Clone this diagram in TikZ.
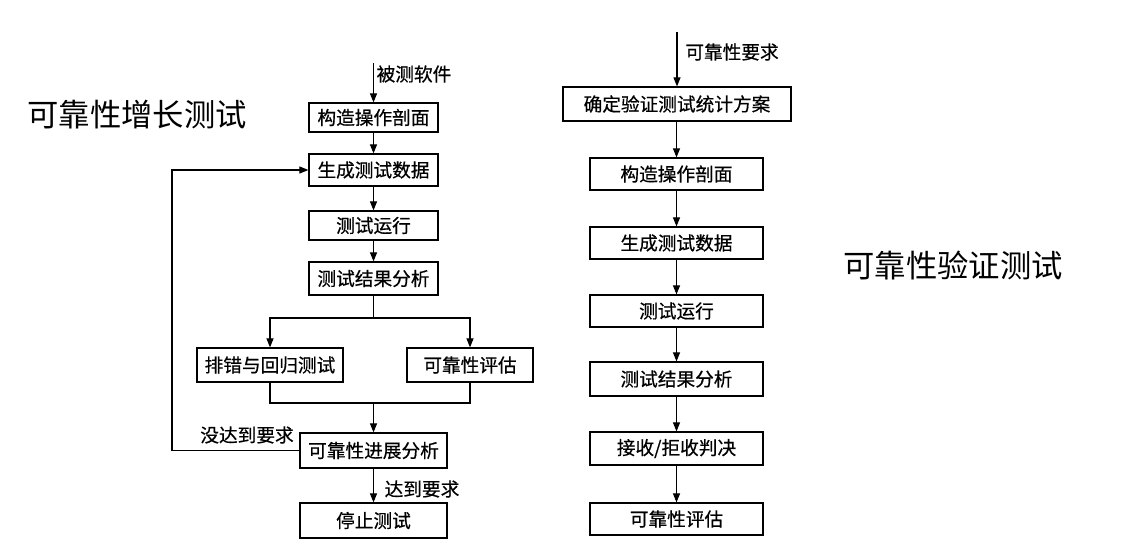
\documentclass[tikz,border=0pt]{standalone}
\usepackage{fontspec}
\newfontfamily\cjk{Noto Sans CJK SC}
\newfontfamily\cjkb[FakeBold=0.6]{Noto Sans CJK SC}
\usetikzlibrary{arrows.meta}
\begin{document}
\begin{tikzpicture}[x=0.75pt,y=-0.75pt,
  every node/.style={font=\cjkb\fontsize{14pt}{16pt}\selectfont, inner sep=0pt},
  box/.style={draw, line width=0.9pt, minimum width=129*0.75pt, minimum height=31*0.75pt, align=center},
  lbl/.style={font=\cjkb\fontsize{14pt}{16pt}\selectfont},
  ttl/.style={font=\cjk\fontsize{23.5pt}{28pt}\selectfont},
  line/.style={line width=0.8pt},
  arr/.style={line width=0.8pt, -{Triangle[length=9pt*0.75,width=7pt*0.75]}}]
\useasboundingbox (0,0) rectangle (1142,550);
% titles
\node[ttl] (t1) at (137,115) {可靠性增长测试};
\node[ttl] (t2) at (953,265) {可靠性验证测试};
% left column
\node[box, minimum height=29*0.75pt] (L1) at (373.5,117.5) {构造操作剖面};
\node[box, minimum height=32*0.75pt] (L2) at (373.5,170) {生成测试数据};
\node[box, minimum height=29*0.75pt] (L3) at (373.5,225.5) {测试运行};
\node[box, minimum height=33*0.75pt] (L4) at (373.5,278.5) {测试结果分析};
\node[box, minimum width=146*0.75pt, minimum height=34*0.75pt] (L5) at (270,365) {排错与回归测试};
\node[box, minimum width=126*0.75pt, minimum height=34*0.75pt] (L6) at (470,365) {可靠性评估};
\node[box, minimum width=147*0.75pt, minimum height=35*0.75pt] (L7) at (373.5,450.5) {可靠性进展分析};
\node[box, minimum width=147*0.75pt, minimum height=35*0.75pt] (L8) at (373.5,520.5) {停止测试};
\coordinate (Lin) at (373.5,63);
\coordinate (split) at (373.5,318);
\coordinate (merge) at (373.5,403);
\coordinate (fb) at (172,450.5);
\node[lbl] (lin) at (414,74) {被测软件};
\node[lbl] (lno) at (247,435) {没达到要求};
\node[lbl] (lyes) at (422,489) {达到要求};
\draw[arr] (Lin) -- (L1);
\draw[arr] (L1) -- (L2);
\draw[arr] (L2) -- (L3);
\draw[arr] (L3) -- (L4);
\draw[line] (L4.south) -- (split);
\draw[arr] (split) -| (L5.north);
\draw[arr] (split) -| (L6.north);
\draw[line] (L5.south) |- (merge);
\draw[line] (L6.south) |- (merge);
\draw[arr] (merge) -- (L7.north);
\draw[arr] (L7.west) -- (fb) |- (L2.west);
\draw[arr] (L7) -- (L8);
% right column
\node[box, minimum width=228*0.75pt, minimum height=34*0.75pt] (R1) at (677,104) {确定验证测试统计方案};
\node[box, minimum width=173*0.75pt, minimum height=32*0.75pt] (R2) at (676.5,174) {构造操作剖面};
\node[box, minimum width=173*0.75pt, minimum height=32*0.75pt] (R3) at (676.5,243) {生成测试数据};
\node[box, minimum width=173*0.75pt, minimum height=32*0.75pt] (R4) at (676.5,311) {测试运行};
\node[box, minimum width=173*0.75pt, minimum height=34*0.75pt] (R5) at (676.5,379) {测试结果分析};
\node[box, minimum width=173*0.75pt, minimum height=33*0.75pt] (R6) at (676.5,448.5) {接收/拒收判决};
\node[box, minimum width=173*0.75pt, minimum height=32*0.75pt] (R7) at (676.5,519) {可靠性评估};
\coordinate (Rin) at (677,32);
\node[lbl] (rin) at (732,52) {可靠性要求};
\draw[arr] (Rin) -- (R1.north -| Rin);
\draw[arr] (R1.south -| R2.north) -- (R2.north);
\draw[arr] (R2) -- (R3);
\draw[arr] (R3) -- (R4);
\draw[arr] (R4) -- (R5);
\draw[arr] (R5) -- (R6);
\draw[arr] (R6) -- (R7);
\end{tikzpicture}
\end{document}
